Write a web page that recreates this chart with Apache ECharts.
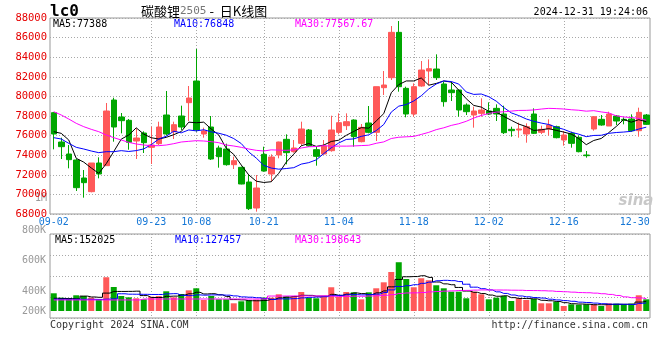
<!DOCTYPE html>
<html><head><meta charset="utf-8">
<script src="https://cdn.jsdelivr.net/npm/echarts/dist/echarts.min.js"></script>
<style>html,body{margin:0;padding:0;background:#fff}#c{width:660px;height:360px}</style>
</head><body><div id="c"></div><script>
const dates = ['09-02','09-03','09-04','09-05','09-06','09-09','09-10','09-11','09-12','09-13',
'09-18','09-19','09-20','09-23','09-24','09-25','09-26','09-27','09-30',
'10-08','10-09','10-10','10-11','10-14','10-15','10-16','10-17','10-18','10-21','10-22','10-23','10-24','10-25','10-28','10-29','10-30','10-31',
'11-01','11-04','11-05','11-06','11-07','11-08','11-11','11-12','11-13','11-14','11-15','11-18','11-19','11-20','11-21','11-22','11-25','11-26','11-27','11-28','11-29',
'12-02','12-03','12-04','12-05','12-06','12-09','12-10','12-11','12-12','12-13','12-16','12-17','12-18','12-19','12-20','12-23','12-24','12-25','12-26','12-27','12-30','12-31'];
const opens = [78339,75346,74122,73510,71673,70279,73204,72931,79631,77897,
77557,75448,76264,74802,75176,78101,76400,77999,79359,
81570,76162,76877,74734,74632,73033,72761,71265,68612,74088,72081,74020,75618,74360,75210,76571,74564,74122,
74462,76332,77013,77591,75380,77285,76332,80890,81910,86535,80822,78203,81060,82590,82794,81264,80652,80652,79121,78101,78271,
78509,78781,78203,76639,76571,76162,78203,76332,76673,76911,75550,76230,75822,74020,76673,77659,76979,77999,77659,77693,76502,78101];
const closes = [76162,74870,73544,70687,71197,73204,72081,78509,76877,77523,
75312,75754,75278,75040,76877,76162,77115,76877,79835,
76571,76468,73612,73850,73033,73442,71061,68544,70653,72387,73816,75346,74258,74734,76673,74938,73884,74938,
76571,77319,77421,75890,76843,76332,80992,81162,86535,80992,78203,80992,82692,82828,81910,79461,80380,78611,78441,78509,78611,
78203,78203,76298,76502,76673,76911,76230,76639,77081,75788,76060,75210,74360,73952,77931,77081,78203,77489,77557,76502,78373,77149];
const lows = [74598,73612,72659,70347,69667,70211,71639,72900,75380,76230,
74564,73612,74224,73102,75040,76008,75652,76571,77489,
76400,75788,73510,72727,72931,72591,71027,68408,68238,72319,71299,73680,73068,74258,74972,74870,72931,74088,
74360,76128,76571,74870,75312,76230,75448,80142,81672,80482,77863,77931,80992,81162,81672,78951,79529,77931,78101,76809,77931,
78101,77489,76162,75890,75788,75278,76162,76162,76008,75720,74972,74768,74292,73748,76502,77013,76979,77081,77149,76400,75890,77081];
const highs = [78400,75788,75040,73612,72489,73204,73782,79325,79869,78305,
77693,76741,76434,76911,77421,80550,77421,79053,81060,
84835,76809,77999,74972,75176,73850,72829,71979,71979,74870,74088,75380,76128,75550,77421,76673,74870,75550,
78033,78271,78271,77659,77183,79019,80992,82590,87182,87692,80992,81332,83610,83781,84291,81502,81502,80700,79291,78951,79801,
79393,79189,79053,76911,77319,77251,78781,77013,77659,77013,76468,76400,76008,74428,77999,78101,78441,78101,77863,78169,78849,78203];
const volumes = [276000,208000,198000,245000,234000,208000,182000,526000,374000,234000,
213000,198000,182000,224000,234000,307000,213000,265000,322000,
354000,172000,234000,182000,182000,120000,151000,167000,177000,208000,208000,260000,229000,229000,296000,203000,198000,229000,
370000,218000,296000,291000,182000,291000,354000,447000,608000,760000,499000,370000,510000,479000,401000,354000,301000,301000,198000,301000,260000,
182000,208000,234000,156000,198000,172000,187000,120000,120000,145000,78000,104000,98000,104000,104000,78000,120000,114000,104000,114000,245000,182000];
// moving-average values before the window fills
const ma5Head = [76400,76230,75550,73680];
const ma10Head = [75788,75652,75210,74802,74632,74428,74258,74360,74360];
const ma30Head = [78441,78101,77693,77251,76911,76639,76400,76060,75788,75550,75312,75142,75040,74972,74972,75040,75176,75346,75414,75482,75448,75380,75278,75040,74938,74802,74632,74496,74428];
const vma5Head = [198000,195000,195000,190000];
const vma10Head = [185000,184000,183000,183000,183000,182000,180000,185000,190000];
const vma30Head = [172000,172000,172000,172000,172000,172000,172000,172000,172000,172000,172000,172000,187000,187000,187000,187000,187000,187000,187000,187000,187000,187000,187000,187000,187000,187000,187000,187000,187000];
const tickDates = ['09-02','09-23','10-08','10-21','11-04','11-18','12-02','12-16','12-30'];
const gridDates = ['09-23','10-08','10-21','11-04','11-18','12-02','12-16'];
const volTickLabels = ['200K','400K','','600K','800K'];
const legendPrice = ['MA5:77388','MA10:76848','MA30:77567.67'];
const legendVol = ['MA5:152025','MA10:127457','MA30:198643'];

function movingAvg(src, n, head) {
  return src.map((_, i) => i < head.length ? head[i] :
    Math.round(src.slice(i - n + 1, i + 1).reduce((a, b) => a + b, 0) / n));
}
const RED = '#ff5959', GREEN = '#00a600';
const MONO = '"DejaVu Sans Mono", monospace';
const kData = dates.map((d, i) => [opens[i], closes[i], lows[i], highs[i]]);
const volData = volumes.map((v, i) => ({ value: v, itemStyle: { color: closes[i] >= opens[i] ? RED : GREEN } }));
const labelIdx = tickDates.map(d => dates.indexOf(d));
const gridIdx = gridDates.map(d => dates.indexOf(d));
const dotted = { color: '#a8a8a8', type: [1, 2], width: 1 };

const volRich = {
  p0: { padding: [0, 0, 14, 0] }, p1: { padding: [0, 0, 12, 0] }, p2: {},
  p3: { padding: [10, 0, 0, 0] }, p4: { padding: [0, 0, 8, 0] }
};

const chart = echarts.init(document.getElementById('c'), null, { renderer: 'canvas' });
chart.setOption({
  animation: false,
  backgroundColor: '#fff',
  grid: [
    { left: 50, right: 10, top: 18, bottom: 146, show: true, borderColor: '#999', borderWidth: 1 },
    { left: 50, right: 10, top: 234, bottom: 49 },
    { left: 50, right: 10, top: 234, bottom: 42, show: true, borderColor: '#999', borderWidth: 1 }
  ],
  xAxis: [
    { type: 'category', gridIndex: 0, data: dates, boundaryGap: true,
      axisLine: { show: false }, axisTick: { show: false },
      axisLabel: { interval: (i) => labelIdx.includes(i), color: '#1577d6', fontFamily: MONO, fontSize: 10, margin: 3,
        formatter: (v) => v === '12-30' ? '{e|' + v + '}' : v, rich: { e: { padding: [0, 8, 0, 0], color: '#1577d6', fontFamily: MONO, fontSize: 10 } } },
      splitLine: { show: true, alignWithLabel: true, interval: (i) => gridIdx.includes(i), lineStyle: dotted } },
    { type: 'category', gridIndex: 1, data: dates, boundaryGap: true,
      axisLine: { show: false }, axisTick: { show: false }, axisLabel: { show: false }, splitLine: { show: false } },
    { type: 'category', gridIndex: 2, data: dates, boundaryGap: true,
      axisLine: { show: false }, axisTick: { show: false }, axisLabel: { show: false },
      splitLine: { show: true, alignWithLabel: true, interval: (i) => gridIdx.includes(i), lineStyle: dotted } }
  ],
  yAxis: [
    { type: 'value', gridIndex: 0, min: 68000, max: 88000, interval: 2000,
      axisLine: { show: false }, axisTick: { show: false },
      axisLabel: { color: '#e60000', fontFamily: MONO, fontSize: 10.5, margin: 3, formatter: (v) => String(v) },
      splitLine: { show: true, lineStyle: dotted } },
    { type: 'value', gridIndex: 1, min: 0, max: 1200000,
      axisLine: { show: false }, axisTick: { show: false }, axisLabel: { show: false }, splitLine: { show: false } },
    { type: 'value', gridIndex: 2, min: 0, max: 4, interval: 1,
      name: '1M', nameLocation: 'end', nameGap: 36,
      nameTextStyle: { color: '#999', fontFamily: MONO, fontSize: 10, align: 'right', verticalAlign: 'middle', padding: [0, 3, 0, 0] },
      axisLine: { show: false }, axisTick: { show: false },
      axisLabel: { color: '#999', fontFamily: MONO, fontSize: 10, margin: 4,
        formatter: (v, i) => { const k = Math.round(v); return volTickLabels[k] ? '{p' + k + '|' + volTickLabels[k] + '}' : ''; },
        rich: Object.fromEntries(Object.entries(volRich).map(([k, s]) => [k, Object.assign({ color: '#999', fontFamily: MONO, fontSize: 10 }, s)])) },
      splitLine: { show: true, lineStyle: dotted } }
  ],
  series: [
    { type: 'candlestick', xAxisIndex: 0, yAxisIndex: 0, data: kData, barWidth: 6,
      itemStyle: { color: RED, color0: GREEN, borderColor: RED, borderColor0: GREEN, borderWidth: 1 } },
    { type: 'line', xAxisIndex: 0, yAxisIndex: 0, data: movingAvg(closes, 5, ma5Head), symbol: 'none', lineStyle: { color: '#000', width: 1 }, z: 5 },
    { type: 'line', xAxisIndex: 0, yAxisIndex: 0, data: movingAvg(closes, 10, ma10Head), symbol: 'none', lineStyle: { color: '#0000ff', width: 1 }, z: 5 },
    { type: 'line', xAxisIndex: 0, yAxisIndex: 0, data: movingAvg(closes, 30, ma30Head), symbol: 'none', lineStyle: { color: '#ff00ff', width: 1 }, z: 5 },
    { type: 'bar', xAxisIndex: 1, yAxisIndex: 1, data: volData, barWidth: 6 },
    { type: 'line', xAxisIndex: 1, yAxisIndex: 1, data: movingAvg(volumes, 5, vma5Head), step: 'middle', symbol: 'none', lineStyle: { color: '#000', width: 1 }, z: 5 },
    { type: 'line', xAxisIndex: 1, yAxisIndex: 1, data: movingAvg(volumes, 10, vma10Head), step: 'middle', symbol: 'none', lineStyle: { color: '#0000ff', width: 1 }, z: 5 },
    { type: 'line', xAxisIndex: 1, yAxisIndex: 1, data: movingAvg(volumes, 30, vma30Head), step: 'middle', symbol: 'none', lineStyle: { color: '#ff00ff', width: 1 }, z: 5 }
  ],
  graphic: [
    { type: 'text', x: 50, y: 12, style: { text: 'lc0', fill: '#000', font: 'bold 16px ' + MONO, textAlign: 'left', textVerticalAlign: 'middle', align: 'left', verticalAlign: 'middle' } },
    { type: 'text', x: 141, y: 11, style: { text: '{a|碳酸锂}{b|2505}{a| -  日K线图}', textAlign: 'left', textVerticalAlign: 'middle', align: 'left', verticalAlign: 'middle',
        rich: { a: { fill: '#000', font: '13px "Noto Sans CJK SC"' }, b: { fill: '#777', font: '11px ' + MONO } } } },
    { type: 'text', x: 648, y: 12, style: { text: '2024-12-31 19:24:06', fill: '#000', font: '10px ' + MONO, textAlign: 'right', textVerticalAlign: 'middle', align: 'right', verticalAlign: 'middle' } },
    { type: 'text', x: 53, y: 24, style: { text: legendPrice[0], fill: '#000', font: '10px ' + MONO, textVerticalAlign: 'middle', verticalAlign: 'middle' } },
    { type: 'text', x: 174, y: 24, style: { text: legendPrice[1], fill: '#0000ff', font: '10px ' + MONO, textVerticalAlign: 'middle', verticalAlign: 'middle' } },
    { type: 'text', x: 295, y: 24, style: { text: legendPrice[2], fill: '#ff00ff', font: '10px ' + MONO, textVerticalAlign: 'middle', verticalAlign: 'middle' } },
    { type: 'text', x: 55, y: 240, style: { text: legendVol[0], fill: '#000', font: '10px ' + MONO, textVerticalAlign: 'middle', verticalAlign: 'middle' } },
    { type: 'text', x: 175, y: 240, style: { text: legendVol[1], fill: '#0000ff', font: '10px ' + MONO, textVerticalAlign: 'middle', verticalAlign: 'middle' } },
    { type: 'text', x: 295, y: 240, style: { text: legendVol[2], fill: '#ff00ff', font: '10px ' + MONO, textVerticalAlign: 'middle', verticalAlign: 'middle' } },
    { type: 'text', x: 50, y: 325, style: { text: 'Copyright 2024 SINA.COM', fill: '#333', font: '10px ' + MONO, textVerticalAlign: 'middle', verticalAlign: 'middle' } },
    { type: 'text', x: 648, y: 325, style: { text: 'http://finance.sina.com.cn', fill: '#333', font: '10px ' + MONO, textAlign: 'right', textVerticalAlign: 'middle', align: 'right', verticalAlign: 'middle' } },
    { type: 'text', x: 636, y: 201, style: { text: 'sina', fill: '#c8c8c8', font: 'italic bold 15px "DejaVu Sans"', textAlign: 'center', textVerticalAlign: 'middle', align: 'center', verticalAlign: 'middle' } }
  ]
});
</script></body></html>
